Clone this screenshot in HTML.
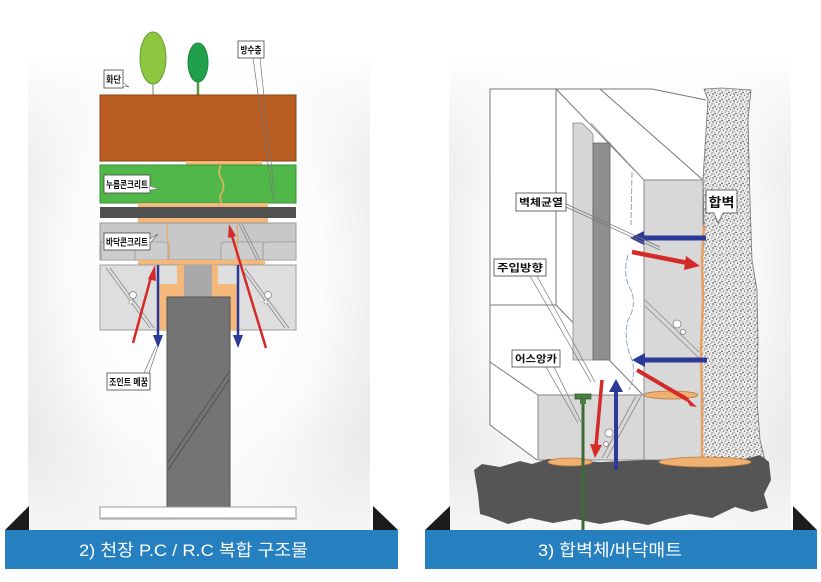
<!DOCTYPE html>
<html><head><meta charset="utf-8">
<style>
html,body{margin:0;padding:0;background:#fff;}
svg{display:block;}
text{font-family:"Liberation Sans","Noto Sans CJK KR",sans-serif;}
</style></head>
<body>
<svg width="821" height="582" viewBox="0 0 821 582" xmlns="http://www.w3.org/2000/svg">
<defs>
  <radialGradient id="cg" cx="50%" cy="50%" r="60%">
    <stop offset="0" stop-color="#ffffff"/>
    <stop offset="0.6" stop-color="#fcfcfc"/>
    <stop offset="1" stop-color="#e8e8e8"/>
  </radialGradient>
  <linearGradient id="fadeTop" x1="0" y1="0" x2="0" y2="1">
    <stop offset="0" stop-color="#fff" stop-opacity="1"/>
    <stop offset="0.1" stop-color="#fff" stop-opacity="1"/>
    <stop offset="0.33" stop-color="#fff" stop-opacity="0"/>
    <stop offset="0.82" stop-color="#fff" stop-opacity="0"/>
    <stop offset="1" stop-color="#fff" stop-opacity="0.6"/>
  </linearGradient>
  <pattern id="spk" width="7" height="7" patternUnits="userSpaceOnUse">
    <rect width="7" height="7" fill="#f0f0f0"/>
    <circle cx="1" cy="1.5" r="0.7" fill="#333"/>
    <circle cx="4" cy="0.8" r="0.5" fill="#555"/>
    <circle cx="6" cy="3" r="0.75" fill="#333"/>
    <circle cx="2.5" cy="4.2" r="0.6" fill="#444"/>
    <circle cx="5" cy="6" r="0.6" fill="#333"/>
    <circle cx="0.8" cy="6.2" r="0.45" fill="#666"/>
    <circle cx="3.8" cy="2.7" r="0.4" fill="#777"/>
    <circle cx="6.3" cy="5" r="0.35" fill="#666"/>
    <circle cx="2" cy="3" r="0.3" fill="#888"/>
  </pattern>
</defs>

<!-- card backgrounds -->
<rect x="28" y="0" width="342" height="530" fill="url(#cg)"/>
<rect x="28" y="0" width="342" height="530" fill="url(#fadeTop)"/>
<rect x="449" y="0" width="342" height="530" fill="url(#cg)"/>
<rect x="449" y="0" width="342" height="530" fill="url(#fadeTop)"/>

<!-- ================= LEFT DIAGRAM ================= -->
<line x1="153" y1="70" x2="153" y2="100" stroke="#8a7a60" stroke-width="1"/>
<ellipse cx="153" cy="58" rx="13" ry="26" fill="#8dc63f" stroke="#6b9b35" stroke-width="1"/>
<line x1="198" y1="78" x2="198" y2="98" stroke="#5b9a3c" stroke-width="2.5"/>
<ellipse cx="198" cy="62.5" rx="10" ry="19.5" fill="#21a04b" stroke="#178a3c" stroke-width="1"/>

<rect x="100" y="95" width="196" height="66" fill="#b95c22" stroke="#8a4418" stroke-width="1"/>
<rect x="186" y="161" width="76" height="4" fill="#f4b87a"/>
<rect x="100" y="165" width="196" height="38" fill="#50b848" stroke="#3c8f36" stroke-width="1"/>
<path d="M221 165 Q217 172 222 180 Q226 188 220 196 L221 203" fill="none" stroke="#e8b060" stroke-width="1.6"/>
<rect x="138" y="203" width="130" height="4" fill="#f4b87a"/>
<rect x="100" y="207" width="196" height="11" fill="#505050"/>
<rect x="138" y="218" width="130" height="5" fill="#f4b87a"/>
<rect x="100" y="223" width="196" height="37" fill="#c8c8c8" stroke="#9a9a9a" stroke-width="1"/>
<path d="M101 260 V242 H131 Q135 242 135 246 V260 Z" fill="#cdcdcd" stroke="#999" stroke-width="0.8"/>
<path d="M135 260 V246 Q135 242 139 242 H164 Q168 242 168 246 V260 Z" fill="#cdcdcd" stroke="#999" stroke-width="0.8"/>
<path d="M221 260 V246 Q221 242 225 242 H263 V260 Z" fill="#cdcdcd" stroke="#999" stroke-width="0.8"/>
<path d="M263 260 V246 Q263 242 267 242 H296 V260 Z" fill="#cdcdcd" stroke="#999" stroke-width="0.8"/>
<path d="M168 223 Q165 235 169 245 Q171 255 167 265" fill="none" stroke="#e8a860" stroke-width="1.2"/>
<path d="M237 223 Q239 240 236 260" fill="none" stroke="#e8a860" stroke-width="1.2"/>
<line x1="239" y1="224" x2="257" y2="260" stroke="#888" stroke-width="0.8"/>
<line x1="242" y1="224" x2="260" y2="260" stroke="#888" stroke-width="0.8"/>
<rect x="138" y="260" width="127" height="5" fill="#f4b87a"/>

<rect x="100" y="265" width="196" height="65" fill="#dedede" stroke="#a0a0a0" stroke-width="1"/>
<line x1="106" y1="268" x2="150" y2="328" stroke="#888" stroke-width="0.8"/>
<line x1="110" y1="268" x2="154" y2="328" stroke="#888" stroke-width="0.8"/>
<line x1="241" y1="268" x2="285" y2="328" stroke="#888" stroke-width="0.8"/>
<line x1="245" y1="268" x2="289" y2="328" stroke="#888" stroke-width="0.8"/>
<circle cx="133" cy="295" r="3.5" fill="#fff" stroke="#777" stroke-width="0.7"/>
<circle cx="131" cy="302" r="2" fill="#fff" stroke="#777" stroke-width="0.6"/>
<circle cx="268" cy="295" r="3.5" fill="#fff" stroke="#777" stroke-width="0.7"/>
<circle cx="266" cy="302" r="2" fill="#fff" stroke="#777" stroke-width="0.6"/>
<rect x="177" y="265" width="41" height="22" fill="#f4b87a"/>
<rect x="157" y="284" width="81" height="46" fill="#f4b87a"/>
<rect x="184" y="265" width="28" height="32" fill="#a9a9a9"/>
<rect x="167" y="297" width="63" height="211" fill="#747474" stroke="#555" stroke-width="1"/>
<line x1="168" y1="462" x2="229" y2="372" stroke="#4a4a4a" stroke-width="0.8"/>
<line x1="168" y1="470" x2="229" y2="380" stroke="#4a4a4a" stroke-width="0.8"/>
<rect x="100" y="507" width="196" height="12" fill="#fff" stroke="#999" stroke-width="1"/>
<line x1="101" y1="518" x2="295" y2="518" stroke="#bbb" stroke-width="1.5"/>

<line x1="158" y1="265" x2="158" y2="336" stroke="#2b3a98" stroke-width="2.5"/>
<polygon points="153,335 163,335 158,348" fill="#2b3a98"/>
<line x1="238" y1="265" x2="238" y2="336" stroke="#2b3a98" stroke-width="2.5"/>
<polygon points="233,335 243,335 238,348" fill="#2b3a98"/>
<line x1="133" y1="343" x2="151" y2="277" stroke="#d42a2a" stroke-width="2.5"/>
<polygon points="148,279 156,281 155,265" fill="#d42a2a"/>
<line x1="266" y1="348" x2="232" y2="236" stroke="#d42a2a" stroke-width="2.5"/>
<polygon points="228,238 236,236 229,224" fill="#d42a2a"/>

<rect x="104" y="70" width="19" height="18" fill="#fff" stroke="#444" stroke-width="0.8"/>
<path d="M123 83 L129 87 L123 86" fill="#fff" stroke="#666" stroke-width="0.6"/>
<text x="113.5" y="83" font-size="9.5" font-weight="bold" text-anchor="middle" textLength="15" lengthAdjust="spacingAndGlyphs" fill="#111">화단</text>

<rect x="238" y="41" width="26" height="17" fill="#fff" stroke="#444" stroke-width="0.8"/>
<text x="251" y="53.5" font-size="9.5" font-weight="bold" text-anchor="middle" textLength="21" lengthAdjust="spacingAndGlyphs" fill="#111">방수층</text>
<line x1="253" y1="58" x2="273" y2="200" stroke="#777" stroke-width="0.7"/>
<line x1="260" y1="58" x2="275" y2="200" stroke="#777" stroke-width="0.7"/>

<rect x="104" y="175" width="46" height="18" fill="#fff" stroke="#444" stroke-width="0.8"/>
<path d="M150 186 L159 189 L150 190" fill="#fff" stroke="#666" stroke-width="0.6"/>
<text x="127" y="188" font-size="9.5" font-weight="bold" text-anchor="middle" textLength="42" lengthAdjust="spacingAndGlyphs" fill="#111">누름콘크리트</text>

<rect x="104" y="233" width="46" height="17" fill="#fff" stroke="#444" stroke-width="0.8"/>
<path d="M150 239 L158 234 L150 243" fill="#fff" stroke="#666" stroke-width="0.6"/>
<text x="127" y="245.5" font-size="9.5" font-weight="bold" text-anchor="middle" textLength="42" lengthAdjust="spacingAndGlyphs" fill="#111">바닥콘크리트</text>

<rect x="107" y="373" width="43" height="17" fill="#fff" stroke="#444" stroke-width="0.8"/>
<line x1="144" y1="373" x2="156" y2="346" stroke="#666" stroke-width="0.6"/>
<line x1="149" y1="373" x2="158" y2="346" stroke="#666" stroke-width="0.6"/>
<text x="128.5" y="385.5" font-size="9.5" font-weight="bold" text-anchor="middle" textLength="39" lengthAdjust="spacingAndGlyphs" fill="#111">조인트 메꿈</text>

<!-- ================= RIGHT DIAGRAM ================= -->
<polygon points="490,89 652,89 706,100 704,460 537,460 490,425" fill="#fff" stroke="none"/>
<polyline points="490,425 490,89 652,89 706,100" fill="none" stroke="#777" stroke-width="1"/>
<rect x="490" y="89" width="66" height="216" fill="#fff" stroke="#777" stroke-width="1"/>
<line x1="556" y1="89" x2="644" y2="180" stroke="#777" stroke-width="1"/>
<line x1="600" y1="89" x2="703" y2="180" stroke="#777" stroke-width="1"/>
<line x1="591" y1="123" x2="644" y2="180" stroke="#999" stroke-width="0.8"/>
<line x1="490" y1="362" x2="538" y2="395" stroke="#777" stroke-width="1"/>
<line x1="490" y1="425" x2="537" y2="460" stroke="#777" stroke-width="1"/>
<line x1="556" y1="305" x2="643" y2="395" stroke="#777" stroke-width="1"/>
<polygon points="573,123 582,123 593,134 593,360 573,360" fill="#d6d6d6" stroke="#888" stroke-width="0.8"/>
<rect x="593" y="143" width="17" height="217" fill="#8f8f8f" stroke="#666" stroke-width="0.8"/>
<rect x="644" y="180" width="59" height="280" fill="#d8d8d8" stroke="#888" stroke-width="1"/>
<line x1="645" y1="300" x2="699" y2="352" stroke="#888" stroke-width="0.8"/>
<line x1="645" y1="306" x2="699" y2="358" stroke="#888" stroke-width="0.8"/>
<circle cx="677" cy="324" r="4" fill="#fff" stroke="#777" stroke-width="0.7"/>
<circle cx="683" cy="332" r="2.5" fill="#fff" stroke="#777" stroke-width="0.7"/>
<rect x="538" y="395" width="106" height="65" fill="#d8d8d8" stroke="#888" stroke-width="1"/>
<line x1="636" y1="396" x2="602" y2="458" stroke="#888" stroke-width="0.8"/>
<line x1="641" y1="396" x2="607" y2="458" stroke="#888" stroke-width="0.8"/>
<circle cx="609" cy="433" r="4" fill="#fff" stroke="#777" stroke-width="0.7"/>
<circle cx="606" cy="444" r="2.5" fill="#fff" stroke="#777" stroke-width="0.7"/>

<path d="M632 172 L631 225 M628 255 Q622 275 631 290 Q637 305 628 320 Q623 340 632 360 Q636 375 629 390" fill="none" stroke="#8a98c8" stroke-width="0.9" stroke-dasharray="6,2"/>

<polygon points="704,89 722,88 751,90 748,120 750,200 752,260 757,290 758,340 757,400 760,440 765,460 702,460 703,400 701,350 703,300 702,260 704,225 703,180 706,130 708,100"
 fill="url(#spk)" stroke="#777" stroke-width="0.8"/>
<polyline points="704,225 702,260 703,300 701,350 702,400 702,460" fill="none" stroke="#e8a060" stroke-width="2.5"/>

<path d="M474 470 L482 464 L500 467 L520 461 L532 464 L548 459 L600 462 L650 460 L700 462 L745 459 L760 455 L769 462 L771 480 L764 494 L768 508 L752 512 L735 507 L712 518 L690 514 L668 519 L648 525 L622 520 L600 524 L575 519 L553 523 L530 518 L508 524 L490 517 L480 514 L478 494 Z" fill="#555"/>
<ellipse cx="570" cy="462" rx="22" ry="4" fill="#f0b070" stroke="#b87a40" stroke-width="0.8"/>
<ellipse cx="705" cy="462" rx="46" ry="5" fill="#f0b070" stroke="#b87a40" stroke-width="0.8"/>
<ellipse cx="671" cy="395" rx="27" ry="4" fill="#f0b070" stroke="#b87a40" stroke-width="0.8"/>

<line x1="583" y1="398" x2="583" y2="530" stroke="#3d6b36" stroke-width="3"/>
<rect x="575" y="394" width="16" height="5" fill="#4a7d42" stroke="#2e5228" stroke-width="0.7"/>
<rect x="580" y="399" width="6" height="5" fill="#4a7d42"/>

<line x1="706" y1="238" x2="642" y2="238" stroke="#2b3a98" stroke-width="5"/>
<polygon points="644,231 644,245 630,238" fill="#2b3a98"/>
<line x1="632" y1="252" x2="688" y2="263" stroke="#d42a2a" stroke-width="4.5"/>
<polygon points="686,256 684,270 700,266" fill="#d42a2a"/>
<line x1="707" y1="360" x2="644" y2="360" stroke="#2b3a98" stroke-width="5"/>
<polygon points="645,353 645,367 632,360" fill="#2b3a98"/>
<line x1="637" y1="370" x2="688" y2="400" stroke="#d42a2a" stroke-width="4"/>
<polygon points="683,394 690,406 697,407" fill="#d42a2a"/>
<line x1="602" y1="380" x2="596" y2="446" stroke="#d42a2a" stroke-width="3.5"/>
<polygon points="590,444 602,445 595,458" fill="#d42a2a"/>
<line x1="616" y1="470" x2="616" y2="391" stroke="#2b3a98" stroke-width="4"/>
<polygon points="609,392 623,392 616,379" fill="#2b3a98"/>

<rect x="706" y="190" width="31" height="23" fill="#fff" stroke="#444" stroke-width="0.8"/>
<path d="M714 213 L718 223 L723 213" fill="#fff" stroke="#555" stroke-width="0.7"/>
<rect x="714.5" y="211" width="8" height="3" fill="#fff"/>
<text x="721.5" y="207" font-size="13" font-weight="bold" text-anchor="middle" textLength="26" lengthAdjust="spacingAndGlyphs" fill="#111">합벽</text>

<rect x="516" y="193" width="50" height="18" fill="#fff" stroke="#444" stroke-width="0.8"/>
<line x1="566" y1="204" x2="660" y2="247" stroke="#777" stroke-width="0.7"/>
<line x1="566" y1="207" x2="660" y2="250" stroke="#777" stroke-width="0.7"/>
<text x="541" y="206" font-size="10" font-weight="bold" text-anchor="middle" textLength="44" lengthAdjust="spacingAndGlyphs" fill="#111">벽체균열</text>

<rect x="494" y="259" width="52" height="17" fill="#fff" stroke="#444" stroke-width="0.8"/>
<line x1="530" y1="276" x2="591" y2="382" stroke="#777" stroke-width="0.7"/>
<line x1="537" y1="276" x2="595" y2="382" stroke="#777" stroke-width="0.7"/>
<text x="520" y="271.5" font-size="10" font-weight="bold" text-anchor="middle" textLength="46" lengthAdjust="spacingAndGlyphs" fill="#111">주입방향</text>

<rect x="512" y="350" width="48" height="17" fill="#fff" stroke="#444" stroke-width="0.8"/>
<line x1="546" y1="367" x2="578" y2="423" stroke="#777" stroke-width="0.7"/>
<line x1="554" y1="367" x2="581" y2="422" stroke="#777" stroke-width="0.7"/>
<text x="536" y="362.5" font-size="10" font-weight="bold" text-anchor="middle" textLength="42" lengthAdjust="spacingAndGlyphs" fill="#111">어스앙카</text>

<!-- ================= BANNERS ================= -->
<polygon points="5,530 29,506 29,530" fill="#1c1c1c"/>
<polygon points="373,506 398,530 373,530" fill="#1c1c1c"/>
<rect x="5" y="530" width="393" height="39" fill="#2680c0"/>
<text x="193.5" y="556" font-size="17" fill="#fff" text-anchor="middle" textLength="229" lengthAdjust="spacingAndGlyphs">2) 천장 P.C / R.C 복합 구조물</text>

<polygon points="425,530 450,506 450,530" fill="#1c1c1c"/>
<polygon points="793,506 817,530 793,530" fill="#1c1c1c"/>
<rect x="425" y="530" width="392" height="39" fill="#2680c0"/>
<text x="610" y="556" font-size="17" fill="#fff" text-anchor="middle" textLength="144" lengthAdjust="spacingAndGlyphs">3) 합벽체/바닥매트</text>
</svg>
</body></html>
